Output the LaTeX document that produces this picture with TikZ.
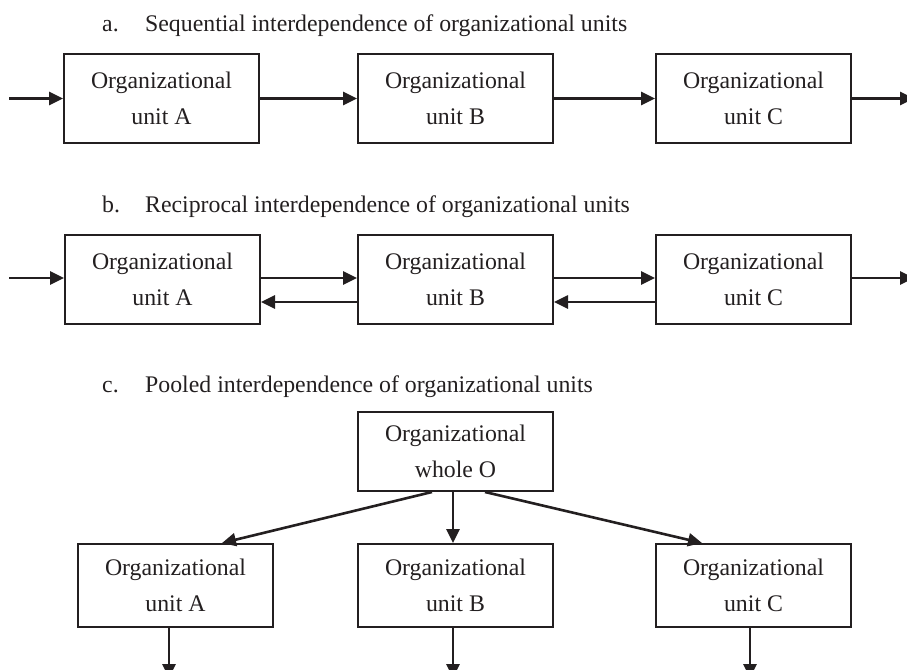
\documentclass[tikz,border=0pt]{standalone}
\usepackage{fontspec}
\setmainfont{Liberation Serif}
\usetikzlibrary{arrows.meta,calc}
\definecolor{ink}{HTML}{231F20}
\begin{document}
\begin{tikzpicture}[x=1pt,y=-1pt,
  font=\fontsize{23.8pt}{36pt}\selectfont,
  unitbox/.style={draw=ink, line width=2pt, minimum width=195pt, minimum height=89pt,
    align=center, inner sep=0pt, text=ink},
  link/.style={draw=ink, line width=2.6pt, -{Triangle[length=14pt,width=13pt]}},
  title/.style={anchor=base west, inner sep=0pt, text=ink}]
\clip (0,0) rectangle (907,669);
% titles
\node[title] (ta) at (102,32) {\makebox[43pt][l]{a.}Sequential interdependence of organizational units};
\node[title] (tb) at (102,212) {\makebox[43pt][l]{b.}Reciprocal interdependence of organizational units};
\node[title] (tc) at (102,392) {\makebox[43pt][l]{c.}Pooled interdependence of organizational units};
% row a
\node[unitbox] (a1) at (161.5,98.5) {Organizational\\unit A};
\node[unitbox] (a2) at (455.5,98.5) {Organizational\\unit B};
\node[unitbox] (a3) at (753.5,98.5) {Organizational\\unit C};
\coordinate (ain) at (9,98.5);
\coordinate (aout) at (914,98.5);
\draw[link] (ain) -- (a1.west);
\draw[link] (a1.east) -- (a2.west);
\draw[link] (a2.east) -- (a3.west);
\draw[link] (a3.east) -- (aout);
% row b
\node[unitbox] (b1) at (162.5,279.5) {Organizational\\unit A};
\node[unitbox] (b2) at (455.5,279.5) {Organizational\\unit B};
\node[unitbox] (b3) at (753.5,279.5) {Organizational\\unit C};
\coordinate (bin) at (9,278);
\coordinate (bout) at (914,278);
\draw[link] (bin) -- (bin -| b1.west);
\draw[link] ([yshift=1.5pt]b1.east) -- ([yshift=1.5pt]b2.west);
\draw[link] ([yshift=1.5pt]b2.east) -- ([yshift=1.5pt]b3.west);
\draw[link] ([yshift=-22.5pt]b2.west) -- ([yshift=-22.5pt]b1.east);
\draw[link] ([yshift=-22.5pt]b3.west) -- ([yshift=-22.5pt]b2.east);
\draw[link] (bout -| b3.east) -- (bout);
% row c
\node[unitbox, minimum height=79pt] (o) at (455.5,451.5) {Organizational\\whole O};
\node[unitbox, minimum height=83pt] (c1) at (175.5,585.5) {Organizational\\unit A};
\node[unitbox, minimum height=83pt] (c2) at (455.5,585.5) {Organizational\\unit B};
\node[unitbox, minimum height=83pt] (c3) at (753.5,585.5) {Organizational\\unit C};
\draw[link] ([xshift=-23.5pt]o.south) -- ([xshift=46.5pt]c1.north);
\draw[link] ([xshift=-2.5pt]o.south) -- ([xshift=-2.5pt]c2.north);
\draw[link] ([xshift=29.5pt]o.south) -- ([xshift=-51.5pt]c3.north);
\coordinate (d1) at (169,678);
\coordinate (d2) at (453,678);
\coordinate (d3) at (750,678);
\draw[link] (c1.south -| d1) -- (d1);
\draw[link] (c2.south -| d2) -- (d2);
\draw[link] (c3.south -| d3) -- (d3);
\end{tikzpicture}
\end{document}
